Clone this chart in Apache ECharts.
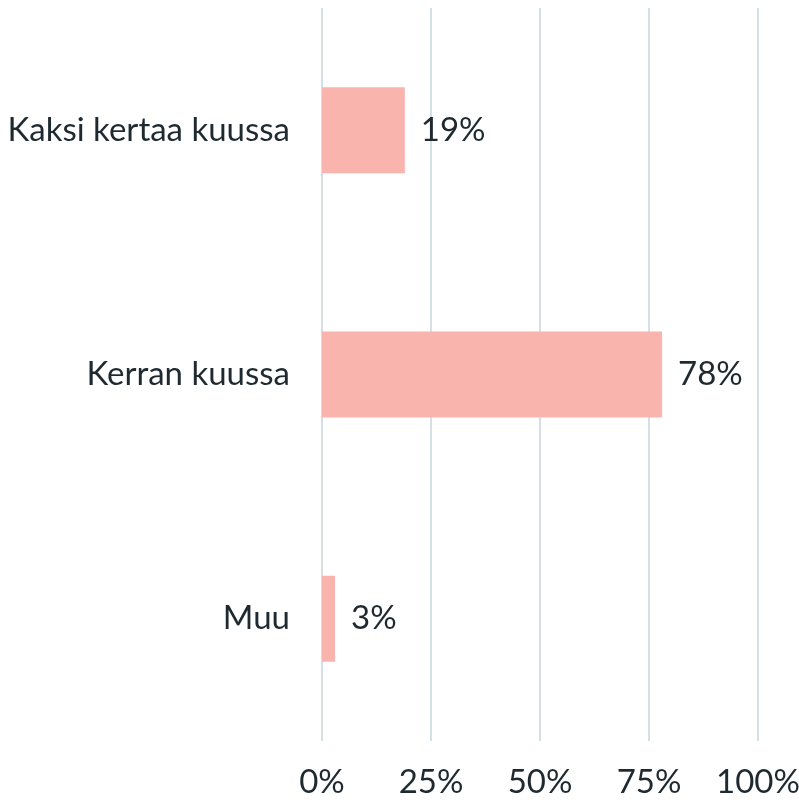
<!DOCTYPE html>
<html>
<head>
<meta charset="utf-8">
<script src="https://cdn.jsdelivr.net/npm/echarts@6/dist/echarts.min.js"></script>
<style>
	html, body { margin: 0; padding: 0; background: #fff; }
	#chart { width: 799px; height: 802px; }
</style>
</head>
<body>
<div id="chart"></div>
<script>
var categories = ['Kaksi kertaa kuussa', 'Kerran kuussa', 'Muu'];
var values = [19, 78, 3];
var ticks = [0, 25, 50, 75, 100];

var textColor = '#1f2a30';
var fontName = 'Lato';
var fontSize = 33;

var chart = echarts.init(document.getElementById('chart'));
var option = {
	animation: false,
	grid: { left: 322, right: 41, top: 8, bottom: 61, outerBoundsMode: 'none' },
	xAxis: {
		type: 'value',
		min: ticks[0],
		max: ticks[ticks.length - 1],
		interval: 25,
		axisLine: { show: false },
		axisTick: { show: false },
		splitLine: { lineStyle: { color: '#d5dfe6', width: 2 } },
		axisLabel: {
			formatter: '{value}%',
			color: textColor,
			fontSize: fontSize,
			fontFamily: fontName,
			margin: 25
		}
	},
	yAxis: {
		type: 'category',
		inverse: true,
		data: categories,
		axisLine: { show: false },
		axisTick: { show: false },
		axisLabel: {
			color: textColor,
			fontSize: fontSize,
			fontFamily: fontName,
			margin: 32
		}
	},
	series: [{
		type: 'bar',
		data: values,
		barWidth: 86,
		itemStyle: { color: '#f9b4ae' },
		label: {
			show: true,
			position: 'right',
			distance: 16,
			formatter: '{c}%',
			color: textColor,
			fontSize: fontSize,
			fontFamily: fontName
		}
	}]
};
chart.setOption(option);
</script>
</body>
</html>
